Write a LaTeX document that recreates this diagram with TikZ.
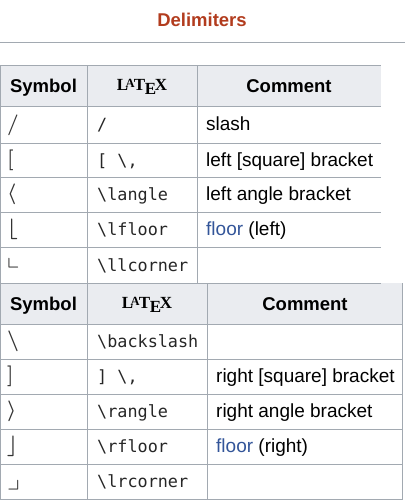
\documentclass[tikz,border=0pt]{standalone}
\usepackage{amssymb}
\usepackage{fontspec}
\setmainfont{Liberation Sans}
\newfontfamily\codefont{DejaVu Sans Mono}
\newfontfamily\logofont{Liberation Serif}
\definecolor{rulegray}{HTML}{A2A9B1}
\definecolor{headbg}{HTML}{EAECF0}
\definecolor{titlered}{RGB}{178,60,30}
\definecolor{linkblue}{RGB}{51,85,153}
\tikzset{
  cell/.style={inner sep=0pt, anchor=base west, font=\fontsize{19}{21}\selectfont},
  code/.style={inner sep=0pt, anchor=base west, font=\codefont\fontsize{16.8}{18}\selectfont, text=black!85},
  sym/.style={inner sep=0pt, anchor=west, font=\boldmath\fontsize{21}{22}\selectfont, text=black!80},
  head/.style={inner sep=0pt, anchor=base, font=\bfseries\fontsize{18.5}{20}\selectfont},
  logo/.style={inner sep=0pt, anchor=base, font=\logofont\bfseries\fontsize{17}{19}\selectfont},
  gridline/.style={draw=rulegray, line width=1pt}
}
\newcommand{\bs}{\textbackslash}
\newcommand{\texlogo}{L\kern-.15em\raisebox{.2em}{\fontsize{12.5}{13}\selectfont A}\kern-.05em T\kern-.02em\raisebox{-.22em}{E}\kern-.08em X}

\begin{document}
\begin{tikzpicture}[x=1pt, y=-1pt]
\useasboundingbox (0,0) rectangle (405,500);
% title and rule
\node[font=\bfseries\fontsize{18.5}{20}\selectfont, text=titlered] (title) at (202,20) {Delimiters};
\draw[gridline] (0,43) -- (405,43);

% header backgrounds
\fill[headbg] (0,66) rectangle (381,107);
\fill[headbg] (0,283) rectangle (403,324);

% first table grid
\foreach \y in {66,107,143,177,212,247,283}
  \draw[gridline] (0,\y) -- (381,\y);
\foreach \x in {0.5,87,197}
  \draw[gridline] (\x,66) -- (\x,283);

% second table grid
\foreach \y in {324,359,394,429,464,499}
  \draw[gridline] (0,\y) -- (403,\y);
\foreach \x in {0.5,87,207,402.5}
  \draw[gridline] (\x,283) -- (\x,499);

% first table
\node[head] (hsym1) at (43.5,92.5) {Symbol};
\node[logo] (htex1) at (142,91) {\texlogo};
\node[head] (hcom1) at (289,92.5) {Comment};

\node[sym] (sym1) at (7,125) {$/$};
\node[code] (tex1) at (97,131) {/};
\node[cell] (com1) at (206,131) {slash};

\node[sym] (sym2) at (7,160) {$[$};
\node[code] (tex2) at (97,166) {[ \bs,};
\node[cell] (com2) at (206,166) {left [square] bracket};

\node[sym] (sym3) at (7,194.5) {$\langle$};
\node[code] (tex3) at (97,200.5) {\bs langle};
\node[cell] (com3) at (206,200.5) {left angle bracket};

\node[sym] (sym4) at (7,229.5) {$\lfloor$};
\node[code] (tex4) at (97,235.5) {\bs lfloor};
\node[cell] (com4) at (206,235.5) {\textcolor{linkblue}{floor} (left)};

\node[sym, scale=1.2] (sym5) at (7,263) {$\llcorner$};
\node[code] (tex5) at (97,271) {\bs llcorner};

% second table
\node[head] (hsym2) at (43.5,310) {Symbol};
\node[logo] (htex2) at (147,308.5) {\texlogo};
\node[head] (hcom2) at (305,310) {Comment};

\node[sym] (sym6) at (7,341.5) {$\backslash$};
\node[code] (tex6) at (97,347.5) {\bs backslash};

\node[sym] (sym7) at (7,376.5) {$]$};
\node[code] (tex7) at (97,382.5) {] \bs,};
\node[cell] (com7) at (216,382.5) {right [square] bracket};

\node[sym] (sym8) at (7,411.5) {$\rangle$};
\node[code] (tex8) at (97,417.5) {\bs rangle};
\node[cell] (com8) at (216,417.5) {right angle bracket};

\node[sym] (sym9) at (7,446.5) {$\rfloor$};
\node[code] (tex9) at (97,452.5) {\bs rfloor};
\node[cell] (com9) at (216,452.5) {\textcolor{linkblue}{floor} (right)};

\node[sym, scale=1.2] (sym10) at (7,485) {$\lrcorner$};
\node[code] (tex10) at (97,487.5) {\bs lrcorner};
\end{tikzpicture}
\end{document}
